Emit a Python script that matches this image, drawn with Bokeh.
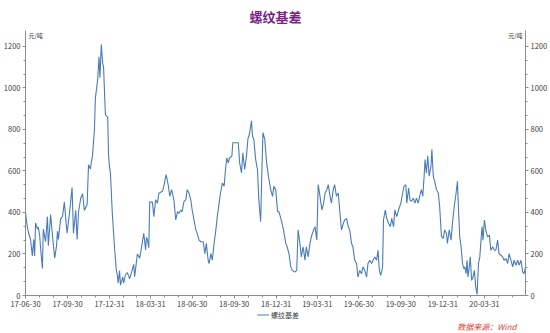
import pandas as pd
from bokeh.plotting import figure
from bokeh.layouts import column
from bokeh.models import (Range1d, LinearAxis, FixedTicker, DatetimeTickFormatter,
                          Label, ColumnDataSource, Title)
from bokeh.core.properties import value
from bokeh.embed import file_html
from bokeh.resources import INLINE

# ---------------- data ----------------
start_date = "2017-06-30"
end_date = "2020-06-29"

days_2017 = [0, 4, 7, 11, 15, 18, 20, 22, 26, 28, 31, 33, 37, 39, 44, 48, 50, 55, 59, 64,
             68, 70, 72, 77, 81, 85, 91, 96, 102, 105, 110, 113, 116, 121, 125, 129, 135, 138, 142, 147,
             151, 153, 158, 161, 163, 166, 169, 171, 175, 180, 182, 184, 186, 190, 193, 195, 199, 201, 203, 206,
             208, 213, 215, 219, 223, 228, 232, 237, 239, 245, 250, 254, 259, 263, 265, 267, 270]
basis_2017 = [400, 330, 300, 270, 190, 270, 190, 350, 320, 330, 290, 230, 130, 320, 260, 380, 240, 390, 290, 180,
              240, 310, 270, 370, 380, 450, 300, 390, 520, 300, 410, 270, 400, 470, 490, 410, 440, 630, 610, 680,
              800, 950, 1040, 1150, 1050, 1210, 1120, 1100, 870, 860, 670, 620, 590, 400, 300, 230, 120, 100, 60, 120,
              50, 90, 60, 100, 110, 80, 110, 150, 90, 200, 180, 230, 300, 220, 280, 270, 230]

days_2018 = [272, 278, 281, 285, 289, 292, 300, 303, 308, 313, 316, 320, 325, 329, 333, 336, 340, 343, 347, 351,
             354, 358, 362, 365, 369, 373, 376, 380, 384, 389, 393, 396, 400, 402, 406, 409, 413, 416, 420, 424,
             427, 431, 435, 438, 441, 444, 447, 452, 454, 466, 469, 473, 476, 480, 484, 487, 491, 495, 497, 500,
             504, 508, 511, 515, 517, 520, 524, 528, 532, 537, 541, 544, 548]
basis_2018 = [450, 450, 380, 461, 445, 493, 502, 527, 583, 527, 478, 510, 461, 364, 404, 396, 412, 404, 453, 461,
              510, 494, 461, 412, 364, 316, 299, 267, 259, 259, 202, 251, 170, 154, 202, 170, 251, 299, 380, 445,
              494, 542, 527, 607, 663, 639, 663, 672, 736, 736, 639, 591, 688, 607, 672, 753, 785, 842, 769, 753,
              656, 607, 461, 356, 542, 785, 753, 639, 575, 510, 478, 527, 510]

days_2019a = [552, 555, 560, 565, 570, 573, 577, 581, 584, 590, 594, 597, 601, 604, 608, 612, 615, 619, 623, 626,
              631, 634, 638, 641, 645, 649, 653, 656, 660, 663, 667, 670, 674, 677, 681, 685, 688, 692, 696, 699,
              703, 707, 710, 714, 717, 721, 725, 728, 732, 736, 739, 743, 747, 750, 754, 758, 761, 765, 769, 772,
              775, 778, 782, 784, 788, 791, 795, 799, 802, 806, 809, 813, 817, 822]
basis_2019a = [404, 404, 364, 316, 251, 235, 202, 138, 121, 113, 121, 316, 251, 186, 235, 170, 235, 186, 251, 283,
               316, 332, 267, 534, 478, 412, 445, 494, 510, 534, 478, 445, 510, 534, 478, 494, 412, 316, 348, 364,
               372, 332, 316, 251, 235, 170, 154, 89, 121, 105, 138, 121, 89, 154, 170, 154, 170, 186, 170, 218,
               121, 97, 138, 364, 412, 372, 348, 332, 372, 332, 412, 380, 412, 445]

days_2019b = [826, 829, 833, 835, 839, 842, 845, 849, 853, 856, 860, 864, 867, 870, 873, 875, 878, 881, 884, 888,
              890, 893, 897, 900, 904, 907, 911, 915, 918, 922, 924, 928, 932, 935, 939, 943, 946, 948, 951, 954,
              957, 960, 962, 965, 967, 969, 971, 974, 977, 980, 983, 986, 989, 992, 995, 997, 1000, 1002, 1005, 1008,
              1012, 1016, 1019, 1023, 1027, 1030, 1034, 1037, 1041, 1045, 1048, 1052, 1056, 1059, 1063, 1067, 1070, 1074, 1078, 1081,
              1085, 1089, 1092, 1095]
basis_2019b = [494, 527, 534, 445, 518, 461, 453, 469, 445, 469, 445, 486, 510, 478, 575, 655, 591, 672, 575, 623,
               704, 575, 542, 510, 494, 429, 283, 275, 316, 299, 251, 316, 267, 348, 429, 494, 550, 429, 283, 235,
               154, 129, 138, 105, 170, 89, 121, 186, 73, 89, 121, 40, 5, 154, 186, 251, 332, 267, 364, 316,
               283, 291, 218, 235, 218, 218, 267, 202, 194, 186, 170, 178, 154, 202, 170, 138, 170, 146, 170, 146,
               170, 113, 105, 138]

x_tick_labels = ["17-06-30", "17-09-30", "17-12-31", "18-03-31", "18-06-30", "18-09-30",
                 "18-12-31", "19-03-31", "19-06-30", "19-09-30", "19-12-31", "20-03-31"]
y_ticks = [0, 200, 400, 600, 800, 1000, 1200]
y_max = 1277
series_name = "螺纹基差"
unit_text = "元/吨"
source_text = "数据来源：Wind"

day_offsets = days_2017 + days_2018 + days_2019a + days_2019b
basis = basis_2017 + basis_2018 + basis_2019a + basis_2019b
assert len(day_offsets) == len(basis)

dates = pd.Timestamp(start_date) + pd.to_timedelta(day_offsets, unit="D")
src = ColumnDataSource(dict(date=dates, basis=basis))

# ---------------- main figure ----------------
FONT = "Noto Sans CJK SC"
AX_COL = "#8c8c8c"
TXT_COL = "#404040"
LINE_COL = "#4a7cba"

p = figure(frame_width=500, frame_height=265, x_axis_type="datetime",
           x_range=Range1d(pd.Timestamp(start_date), pd.Timestamp(end_date)),
           y_range=Range1d(0, y_max),
           output_backend="svg", toolbar_location=None,
           min_border_left=25, min_border_right=25, min_border_top=30, min_border_bottom=15)
p.outline_line_color = None
p.xgrid.visible = False
p.ygrid.visible = False
p.background_fill_color = "white"
p.border_fill_color = "white"

p.title = Title(text=series_name, align="center", text_font=FONT, text_font_size="13px",
                text_font_style="bold", text_color="#7b1f86", standoff=9)

r = p.line("date", "basis", source=src, line_color=LINE_COL, line_width=1.1)

def ms(ts):
    return ts.value // 10**6

major_x = [ms(pd.to_datetime(s, format="%y-%m-%d")) for s in x_tick_labels]
minor_x = [ms(t) for t in pd.date_range(start_date, "2020-06-30", freq="ME")]
p.xaxis.ticker = FixedTicker(ticks=major_x, minor_ticks=minor_x)
p.xaxis.formatter = DatetimeTickFormatter(days="%y-%m-%d", months="%y-%m-%d", years="%y-%m-%d")

minor_y = [i * 200 / 3 for i in range(0, 19)]
right_axis = LinearAxis()
p.add_layout(right_axis, "right")
for ax in p.yaxis:
    ax.ticker = FixedTicker(ticks=y_ticks, minor_ticks=minor_y)

for ax in list(p.xaxis) + list(p.yaxis):
    ax.axis_line_color = AX_COL
    ax.major_tick_line_color = AX_COL
    ax.minor_tick_line_color = AX_COL
    ax.major_tick_in = 0
    ax.major_tick_out = 3
    ax.minor_tick_in = 0
    ax.minor_tick_out = 2
    ax.major_label_text_font = FONT
    ax.major_label_text_font_size = "7.5px"
    ax.major_label_text_color = TXT_COL
    ax.major_label_standoff = 2

# unit labels (inside the frame, at its top)
p.add_layout(Label(x=3, y=265, x_units="screen", y_units="screen", text=unit_text,
                   text_align="left", text_baseline="top", text_font=FONT,
                   text_font_size="6px", text_color="#303030"))
p.add_layout(Label(x=497, y=265, x_units="screen", y_units="screen", text=unit_text,
                   text_align="right", text_baseline="top", text_font=FONT,
                   text_font_size="6px", text_color="#303030"))

# ---------------- footer strip: legend + source ----------------
f = figure(width=550, height=23, x_range=Range1d(0, 550), y_range=Range1d(0, 23),
           output_backend="svg", toolbar_location=None,
           x_axis_location=None, y_axis_location=None, min_border=0)
f.outline_line_color = None
f.xgrid.visible = False
f.ygrid.visible = False
f.background_fill_color = "white"
f.border_fill_color = "white"

f.line(x=[255, 268], y=[18.5, 18.5], line_color=LINE_COL, line_width=1.1)
f.text(x=[270], y=[18.5], text=[series_name], text_font=value(FONT), text_font_size="7px",
       text_color=TXT_COL, text_baseline="middle", text_align="left")
f.text(x=[540], y=[7], text=[source_text], text_font=value(FONT), text_font_size="8px",
       text_font_style="italic", text_color="#e0403a", text_baseline="middle", text_align="right")

layout = column(p, f, spacing=0)
open("out.html", "w").write(file_html(layout, INLINE))
